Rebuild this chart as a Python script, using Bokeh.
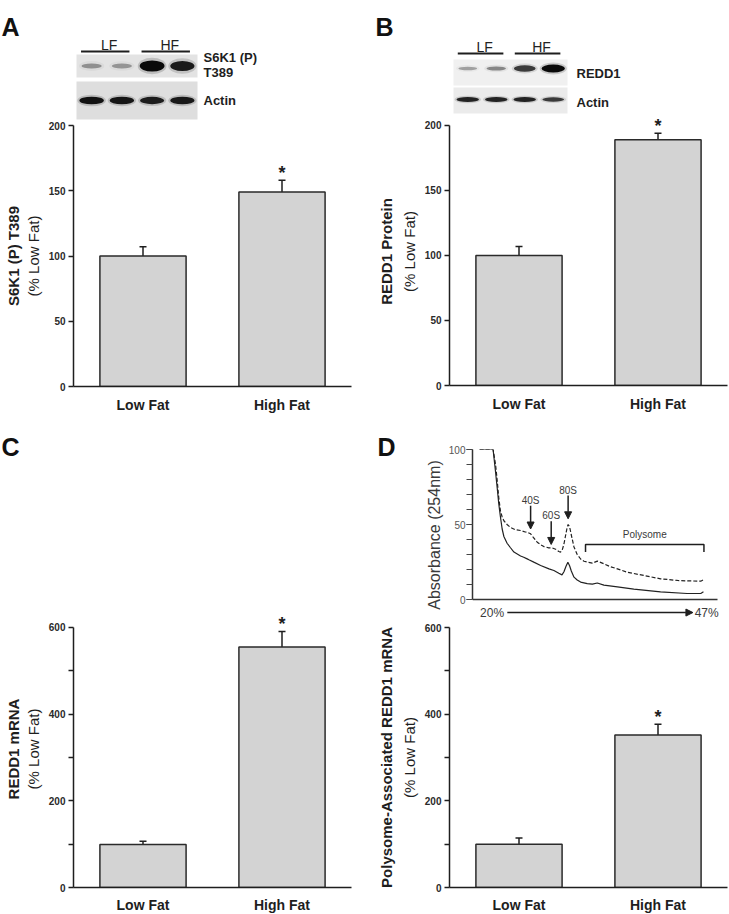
import numpy as np
from bokeh.plotting import figure
from bokeh.layouts import row, column
from bokeh.models import (Range1d, FactorRange, FixedTicker, LinearAxis, ColumnDataSource,
                          Whisker, TeeHead, LabelSet, Label, Arrow, NormalHead)
from bokeh.core.properties import value
from bokeh.embed import file_html
from bokeh.resources import INLINE

FONT = "Liberation Sans"
INK = "#1e1e1e"

# ---------------- data ----------------
groups = ["Low Fat", "High Fat"]
significant = ["", "*"]

s6k1_pct = [100, 149]
s6k1_sem = [7, 9]
redd1_protein_pct = [100, 189]
redd1_protein_sem = [7, 5]
redd1_mrna_pct = [99, 555]
redd1_mrna_sem = [8, 36]
polysome_redd1_pct = [100, 352]
polysome_redd1_sem = [14, 25]

# western blot band intensities (lanes LF, LF, HF, HF)
blot_lanes = ["LF", "LF", "HF", "HF"]
blot_a_s6k1 = [0.25, 0.22, 1.0, 0.9]
blot_a_actin = [0.95, 0.92, 0.88, 0.9]
blot_b_redd1 = [0.2, 0.32, 0.72, 1.0]
blot_b_actin = [0.85, 0.85, 0.85, 0.72]

# polysome profile (gradient position, absorbance)
profile_dashed_pos = [2.9, 8.4, 9.4, 10.1, 10.7, 11.4, 12.1, 12.8, 14.1, 15.5, 17.5, 19.6, 21.5, 22.3,
                      23.7, 25.0, 26.4, 27.8, 29.1, 31.1, 32.5, 33.9, 35.2, 35.9, 36.6, 37.3, 38.0, 38.6,
                      39.0, 39.6, 40.3, 41.4, 42.7, 44.1, 45.5, 46.8, 48.9, 50.9, 53.6, 56.0, 59.1, 63.1,
                      69.9, 76.7, 83.6, 88.0, 93.1, 94.2]
profile_dashed_abs = [100, 100, 90, 79, 68, 59, 55, 52.5, 50, 48, 46.5, 46, 45, 44.9,
                      43.8, 41, 38.2, 36.5, 35.3, 34.4, 34.4, 33.5, 32, 31.6, 33, 37, 43, 48,
                      50, 48.5, 43, 35, 30, 27, 25.5, 25, 24.2, 25.6, 23.8, 22, 20.4, 18.2,
                      16, 13.8, 12.7, 12.4, 12.2, 13.1]
profile_solid_pos = [2.9, 8.4, 9.4, 10.1, 10.7, 11.4, 12.1, 12.8, 14.1, 15.5, 16.9, 19.6, 20.9, 22.3,
                     23.0, 25.0, 27.8, 31.2, 33.2, 35.2, 36.5, 37.3, 38.1, 38.9, 39.6, 40.3, 41.4, 42.7,
                     44.1, 46.8, 48.9, 50.9, 53.6, 59.1, 65.8, 76.7, 87.5, 93.1, 94.2]
profile_solid_abs = [100, 100, 85, 74, 64, 55, 47, 42, 37.5, 34.5, 31.6, 29, 28.2, 27.1,
                     26.5, 24.9, 22.7, 20.4, 19.3, 17.5, 16.4, 18.5, 22, 24.9, 22.5, 19, 14.9, 13,
                     11.6, 10.6, 10.2, 11, 9.6, 8.4, 6.9, 5.1, 4, 4, 5.1]
peak_names = ["40S", "60S", "80S"]
peak_pos = [23.7, 32.1, 39.0]
peak_abs = [47.0, 36.7, 53.8]
polysome_span = [46.1, 94.4]
gradient_labels = ["20%", "47%"]


# ---------------- helpers ----------------
def bar_panel(means, sems, title_bold, title_reg, ytop, yaxis_max, major, minor,
              b_left, b_right, b_top, b_bottom, frame_w, frame_h, s1, s2, label_gap=10):
    p = figure(frame_width=frame_w, frame_height=frame_h,
               x_range=FactorRange(*groups, range_padding=0), y_range=Range1d(0, ytop),
               output_backend="svg", toolbar_location=None,
               min_border_left=b_left, min_border_right=b_right,
               min_border_top=b_top, min_border_bottom=b_bottom)
    p.outline_line_color = None
    p.grid.visible = False
    src = ColumnDataSource(dict(g=groups, m=means,
                                top=[m + s for m, s in zip(means, sems)],
                                star=significant))
    p.vbar(x="g", top="m", bottom=0, width=0.62, source=src,
           fill_color="#d3d3d3", line_color="#2a2a2a", line_width=1.5)
    p.add_layout(Whisker(base="g", lower="m", upper="top", source=src, dimension="height",
                         line_color=INK, line_width=1.5, lower_head=None,
                         upper_head=TeeHead(size=7, line_color=INK, line_width=1.5)))
    p.add_layout(LabelSet(x="g", y="top", text="star", source=src, text_align="center",
                          text_baseline="alphabetic", y_offset=1,
                          text_font=value(FONT), text_font_size="18px",
                          text_font_style="bold", text_color=INK))
    ya = p.yaxis[0]
    ya.ticker = FixedTicker(ticks=major, minor_ticks=minor)
    ya.bounds = (0, yaxis_max)
    ya.axis_line_color = INK
    ya.axis_line_width = 1.5
    ya.major_tick_line_color = INK
    ya.minor_tick_line_color = INK
    ya.major_tick_line_width = 1.5
    ya.minor_tick_line_width = 1.5
    ya.major_tick_out = 5
    ya.major_tick_in = 0
    ya.minor_tick_out = 5
    ya.minor_tick_in = 0
    ya.major_label_standoff = 3
    ya.major_label_text_font = FONT
    ya.major_label_text_font_size = "10px"
    ya.major_label_text_font_style = "bold"
    ya.major_label_text_color = "#2a2a2a"
    ya.axis_label = title_reg
    ya.axis_label_standoff = s1
    ya.axis_label_text_font = FONT
    ya.axis_label_text_font_size = "15px"
    ya.axis_label_text_font_style = "normal"
    ya.axis_label_text_color = INK
    outer = LinearAxis(ticker=FixedTicker(ticks=[]), axis_label=title_bold,
                       axis_line_color=None, major_tick_line_color=None,
                       minor_tick_line_color=None, major_tick_out=0, major_tick_in=0,
                       minor_tick_out=0, minor_tick_in=0, major_label_standoff=0,
                       axis_label_standoff=s2, axis_label_text_font=FONT,
                       axis_label_text_font_size="15px", axis_label_text_font_style="bold",
                       axis_label_text_color=INK)
    p.add_layout(outer, "left")
    xa = p.xaxis[0]
    xa.axis_line_color = INK
    xa.axis_line_width = 1.5
    xa.major_tick_line_color = None
    xa.major_tick_out = 0
    xa.major_tick_in = 0
    xa.major_label_standoff = label_gap
    xa.major_label_text_font = FONT
    xa.major_label_text_font_size = "14px"
    xa.major_label_text_font_style = "bold"
    xa.major_label_text_color = INK
    return p


def plain_canvas(width, height, x0, y0):
    p = figure(width=width, height=height, x_range=Range1d(x0, x0 + width),
               y_range=Range1d(y0 + height, y0), output_backend="svg",
               toolbar_location=None, min_border=0,
               x_axis_location=None, y_axis_location=None)
    p.outline_line_color = None
    p.grid.visible = False
    if "frame_align" in p.properties():
        p.frame_align = False
    return p


def add_letter(p, letter, x, y):
    p.text(x=[x], y=[y], text=[letter], text_font=value(FONT), text_font_size="25px",
           text_font_style="bold", text_baseline="alphabetic", text_align="left",
           text_color="#111111")


def blot_panel(width, height, x0, y0, letter, letter_x, letter_y, box, strips, lane_bg,
               label_x, group_y, group_label_y):
    p = plain_canvas(width, height, x0, y0)
    bx0, bx1 = box
    lane_w = (bx1 - bx0) / len(blot_lanes)
    cx = [bx0 + (i + 0.5) * lane_w for i in range(len(blot_lanes))]
    for (sy0, sy1, bands, hmax, dy, labels), bg in zip(strips, lane_bg):
        p.quad(left=[bx0], right=[bx1], top=[sy0], bottom=[sy1],
               fill_color=bg, line_color=None)
        ints = np.array(bands)
        cy = [(sy0 + sy1) / 2 + dy] * len(cx)
        p.ellipse(x=cx, y=cy, width=list(lane_w * (0.8 + 0.15 * ints)),
                  height=list(hmax * (0.7 + 0.8 * ints)),
                  fill_color="#000000", fill_alpha=list(0.16 * ints), line_color=None)
        p.ellipse(x=cx, y=cy, width=list(lane_w * (0.62 + 0.2 * ints)),
                  height=list(hmax * (0.3 + 0.7 * ints)),
                  fill_color="#0a0a0a", fill_alpha=list(0.15 + 0.85 * ints), line_color=None)
        p.text(x=[label_x] * len(labels), y=[ly for _, ly in labels],
               text=[t for t, _ in labels], text_font=value(FONT), text_font_size="13px",
               text_font_style="bold", text_baseline="middle", text_align="left",
               text_color=INK)
    names = []
    for n in blot_lanes:
        if n not in names:
            names.append(n)
    for n in names:
        idx = [i for i, v in enumerate(blot_lanes) if v == n]
        xs = bx0 + idx[0] * lane_w + 0.15 * lane_w
        xe = bx0 + (idx[-1] + 1) * lane_w - 0.25 * lane_w
        p.segment(x0=[xs], y0=[group_y], x1=[xe], y1=[group_y], line_color=INK, line_width=2)
        p.text(x=[(xs + xe) / 2 + 4], y=[group_label_y], text=[n], text_font=value(FONT),
               text_font_size="14px", text_baseline="middle", text_align="center",
               text_color="#222222")
    add_letter(p, letter, letter_x, letter_y)
    return p


LEFT_W = 373
RIGHT_W = 355

# ---------------- panels A / B ----------------
blotA = blot_panel(LEFT_W, 120, 0, 0, "A", 1, 26, (76, 197),
                   [(54, 77, blot_a_s6k1, 11, 0, [("S6K1 (P)", 57), ("T389", 72)]),
                    (81, 119, blot_a_actin, 8, 0, [("Actin", 100)])],
                   ["#e3e3e3", "#dedede"], 203, 51, 44)
blotB = blot_panel(RIGHT_W, 117, LEFT_W, 0, "B", 375, 26, (453, 567),
                   [(59, 85, blot_b_redd1, 8, -4, [("REDD1", 73)]),
                    (87, 113, blot_b_actin, 5.5, -1, [("Actin", 102)])],
                   ["#f0f0f0", "#ebebeb"], 576, 53, 46)

figA = bar_panel(s6k1_pct, s6k1_sem, "S6K1 (P) T389", "(% Low Fat)", 200, 200,
                 [0, 50, 100, 150, 200], [], 73, 22, 5, 44, 278, 261, 4, 0)
figB = bar_panel(redd1_protein_pct, redd1_protein_sem, "REDD1 Protein", "(% Low Fat)",
                 206.15, 200, [0, 50, 100, 150, 200], [], 76, 1, 0, 45, 278, 268, 4, 3)

# ---------------- panel C ----------------
letterC = plain_canvas(LEFT_W, 40, 0, 430)
add_letter(letterC, "C", 1, 446)
figC = bar_panel(redd1_mrna_pct, redd1_mrna_sem, "REDD1 mRNA", "(% Low Fat)", 639.2, 600,
                 [0, 200, 400, 600], [100, 300, 500], 73, 22, 140, 25, 278, 277, 4, 0,
                 label_gap=9)

# ---------------- panel D inset: polysome profile ----------------
letterD = plain_canvas(40, 190, LEFT_W, 430)
add_letter(letterD, "D", 377, 446)

inset = figure(frame_width=254, frame_height=171, x_range=Range1d(0, 103.6),
               y_range=Range1d(-14, 100), output_backend="svg", toolbar_location=None,
               min_border_left=59, min_border_right=2, min_border_top=19, min_border_bottom=0)
inset.outline_line_color = None
inset.grid.visible = False
iy = inset.yaxis[0]
iy.ticker = FixedTicker(ticks=[0, 50, 100], minor_ticks=list(range(0, 101, 10)))
iy.bounds = (0, 100)
iy.axis_line_color = "#333333"
iy.axis_line_width = 1.5
iy.major_tick_line_color = "#444444"
iy.minor_tick_line_color = "#444444"
iy.major_tick_out = 6
iy.minor_tick_out = 6
iy.major_tick_in = 0
iy.minor_tick_in = 0
iy.major_label_standoff = 1
iy.major_label_text_font = FONT
iy.major_label_text_font_size = "10px"
iy.major_label_text_color = "#555555"
iy.axis_label = "Absorbance (254nm)"
iy.axis_label_standoff = 3
iy.axis_label_text_font = FONT
iy.axis_label_text_font_size = "16px"
iy.axis_label_text_font_style = "normal"
iy.axis_label_text_color = "#3a3a3a"
ix = inset.xaxis[0]
ix.ticker = FixedTicker(ticks=[])
ix.fixed_location = 0
ix.bounds = (0, 100)
ix.axis_line_color = "#333333"
ix.axis_line_width = 1.5
ix.major_tick_out = 0
ix.major_tick_in = 0
ix.major_label_standoff = 0

inset.line(profile_dashed_pos, profile_dashed_abs, line_color="#222222", line_width=1.2,
           line_dash="4 2")
inset.line(profile_solid_pos, profile_solid_abs, line_color="#222222", line_width=1.2)

psrc = ColumnDataSource(dict(x=peak_pos, tip=peak_abs, start=[a + 15.5 for a in peak_abs],
                             name=peak_names))
inset.add_layout(Arrow(source=psrc, x_start="x", y_start="start", x_end="x", y_end="tip",
                       line_color=INK, line_width=1.5,
                       end=NormalHead(size=7, fill_color=INK, line_color=INK, line_width=1)))
inset.add_layout(LabelSet(source=psrc, x="x", y="start", text="name", text_align="center",
                          text_baseline="bottom", text_font=value(FONT), text_font_size="10px",
                          text_color="#3a3a3a"))
inset.line([polysome_span[0], polysome_span[0], polysome_span[1], polysome_span[1]],
           [31.6, 36.7, 36.7, 31.6], line_color=INK, line_width=1.5)
inset.add_layout(Label(x=sum(polysome_span) / 2, y=40, text="Polysome", text_align="center",
                       text_baseline="bottom", text_font=FONT, text_font_size="10px",
                       text_color="#3a3a3a"))
inset.add_layout(Label(x=8.0, y=-8.7, text=gradient_labels[0], text_align="center",
                       text_baseline="middle", text_font=FONT, text_font_size="12px",
                       text_color="#3a3a3a"))
inset.add_layout(Label(x=95.5, y=-8.7, text=gradient_labels[1], text_align="center",
                       text_baseline="middle", text_font=FONT, text_font_size="12px",
                       text_color="#3a3a3a"))
inset.add_layout(Arrow(x_start=14.2, y_start=-8.7, x_end=89.9, y_end=-8.7,
                       line_color=INK, line_width=1.5,
                       end=NormalHead(size=7, fill_color=INK, line_color=INK, line_width=1)))

figD = bar_panel(polysome_redd1_pct, polysome_redd1_sem, "Polysome-Associated REDD1 mRNA",
                 "(% Low Fat)", 600, 600, [0, 200, 400, 600], [100, 300, 500],
                 76, 1, 7, 25, 278, 260, 4, 3, label_gap=9)

# ---------------- layout ----------------
left_col = column(blotA, figA, letterC, figC, spacing=0)
right_col = column(blotB, figB, row(letterD, inset, spacing=0), figD, spacing=0)
root = row(left_col, right_col, spacing=0)

with open("out.html", "w") as f:
    f.write(file_html(root, INLINE, title="REDD1 high fat"))
